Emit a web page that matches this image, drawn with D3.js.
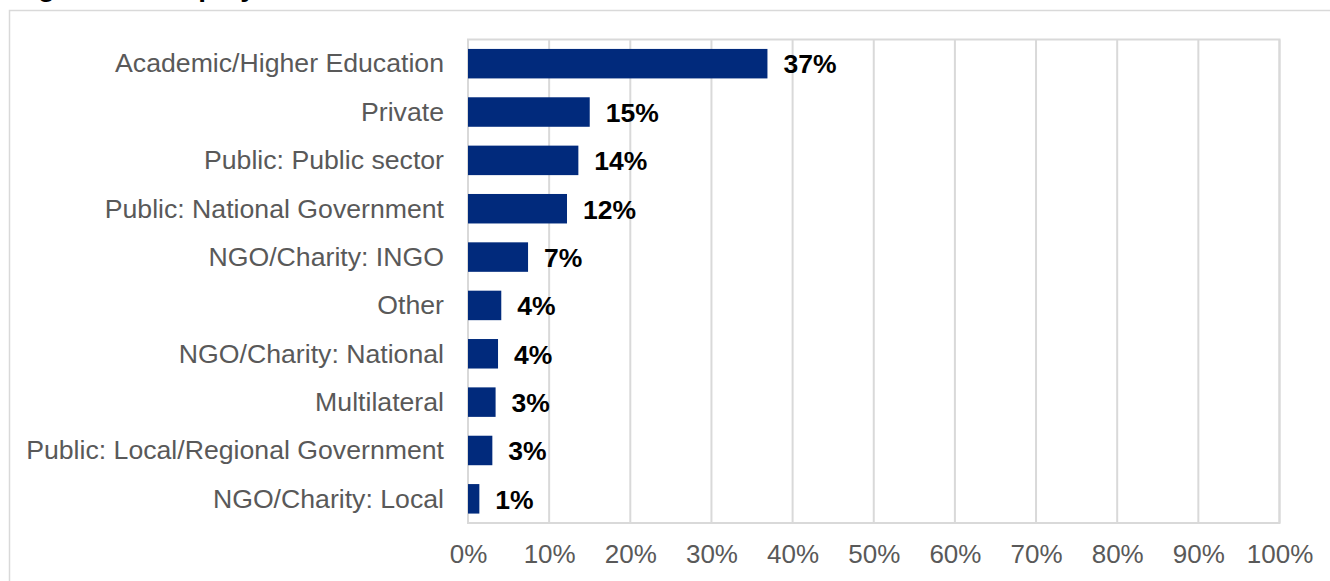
<!DOCTYPE html>
<html>
<head>
<meta charset="utf-8">
<script src="https://cdn.jsdelivr.net/npm/d3@7"></script>
<style>
  html, body { margin: 0; padding: 0; background: #ffffff; }
  svg { display: block; }
  text { font-family: "Liberation Sans", Arial, sans-serif; }
</style>
</head>
<body>
<svg id="chart" width="1330" height="581"></svg>
<script>
// Employer type shares (percent of respondents)
const categories = [
  "Academic/Higher Education",
  "Private",
  "Public: Public sector",
  "Public: National Government",
  "NGO/Charity: INGO",
  "Other",
  "NGO/Charity: National",
  "Multilateral",
  "Public: Local/Regional Government",
  "NGO/Charity: Local"
];
const shares = [36.9, 15.0, 13.6, 12.2, 7.4, 4.1, 3.7, 3.4, 3.0, 1.4];
const tickValues = [0, 10, 20, 30, 40, 50, 60, 70, 80, 90, 100];
const titleText = "Figure 10: Employer sector";

const svg = d3.select("#chart");
const plot = { left: 468, right: 1279.5, top: 39.5, bottom: 523 };

// Outer chart frame
svg.append("rect")
  .attr("x", 9.5).attr("y", 10.5)
  .attr("width", 1340).attr("height", 620)
  .attr("fill", "#ffffff")
  .attr("stroke", "#d9d9d9").attr("stroke-width", 1.5);

// Title, sitting above the top edge
svg.append("text")
  .attr("x", 13).attr("y", -4.5)
  .attr("font-size", 28).attr("font-weight", "bold")
  .attr("fill", "#000000")
  .text(titleText);

const x = d3.scaleLinear().domain([0, 100]).range([plot.left, plot.right]);
const y = d3.scaleBand().domain(categories)
  .range([plot.top, plot.bottom])
  .paddingInner(0.39).paddingOuter(0.195);

// Vertical gridlines
svg.append("g")
  .selectAll("line")
  .data(tickValues)
  .join("line")
  .attr("x1", d => x(d)).attr("x2", d => x(d))
  .attr("y1", plot.top).attr("y2", plot.bottom)
  .attr("stroke", "#d9d9d9").attr("stroke-width", 2);

// Plot area border
svg.append("rect")
  .attr("x", plot.left).attr("y", plot.top)
  .attr("width", plot.right - plot.left).attr("height", plot.bottom - plot.top)
  .attr("fill", "none").attr("stroke", "#d9d9d9").attr("stroke-width", 2);

// Bottom axis with percent labels
const xAxis = d3.axisBottom(x).tickValues(tickValues)
  .tickFormat(d => d + "%").tickSize(0).tickPadding(0);
const gx = svg.append("g")
  .attr("transform", `translate(0,${plot.bottom})`)
  .call(xAxis);
gx.select(".domain").remove();
gx.selectAll("text")
  .attr("y", 40).attr("dy", 0)
  .attr("font-size", 26)
  .attr("font-family", "'Liberation Sans', Arial, sans-serif")
  .attr("fill", "#595959");

// Left axis with category names
const yAxis = d3.axisLeft(y).tickSize(0).tickPadding(24);
const gy = svg.append("g")
  .attr("transform", `translate(${plot.left},0)`)
  .call(yAxis);
gy.select(".domain").remove();
gy.selectAll("text")
  .attr("dy", "0.33em")
  .attr("font-size", 26.67)
  .attr("font-family", "'Liberation Sans', Arial, sans-serif")
  .attr("fill", "#595959");

// Bars
svg.append("g")
  .selectAll("rect")
  .data(categories)
  .join("rect")
  .attr("x", x(0))
  .attr("y", d => y(d))
  .attr("width", (d, i) => x(shares[i]) - x(0))
  .attr("height", y.bandwidth())
  .attr("fill", "#012a7c");

// Value labels
svg.append("g")
  .selectAll("text")
  .data(categories)
  .join("text")
  .attr("x", (d, i) => x(shares[i]) + 16)
  .attr("y", d => y(d) + y.bandwidth() / 2)
  .attr("dy", "0.37em")
  .attr("font-size", 26.5)
  .attr("font-weight", "bold")
  .attr("fill", "#000000")
  .text((d, i) => Math.round(shares[i]) + "%");
</script>
</body>
</html>
